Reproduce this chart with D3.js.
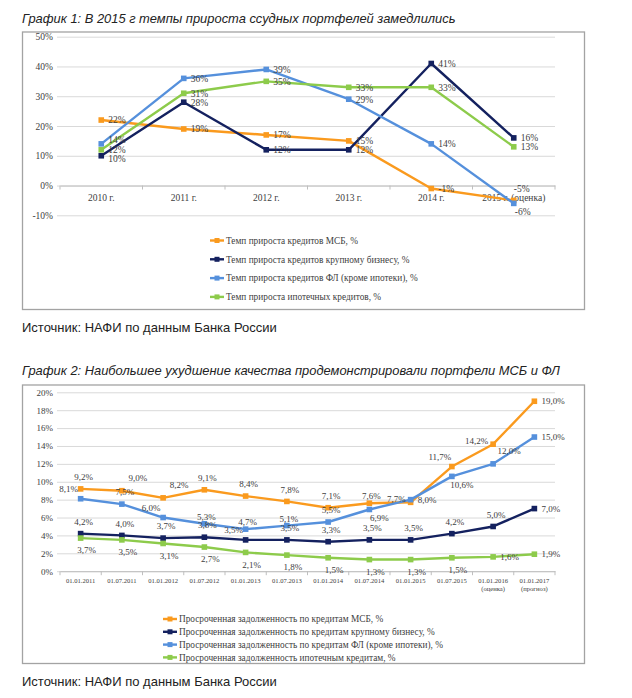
<!DOCTYPE html>
<html>
<head>
<meta charset="utf-8">
<script src="https://cdn.jsdelivr.net/npm/d3@7"></script>
<style>
  body { margin: 0; background: #fff; }
  svg { display: block; }
</style>
</head>
<body>
<div id="page"></div>
<script>
// ---- Chart 1 data: loan growth rates, %
const years = ["2010 г.", "2011 г.", "2012 г.", "2013 г.", "2014 г.", "2015 г. (оценка)"];
const smeGrowth = [22, 19, 17, 15, -1, -5];
const corpGrowth = [10, 28, 12, 12, 41, 16];
const retailGrowth = [14, 36, 39, 29, 14, -6];
const mortgageGrowth = [12, 31, 35, 33, 33, 13];
const growthTicks = [-10, 0, 10, 20, 30, 40, 50];
const growthNames = [
  "Темп прироста кредитов МСБ, %",
  "Темп прироста кредитов крупному бизнесу, %",
  "Темп прироста кредитов ФЛ (кроме ипотеки), %",
  "Темп прироста ипотечных кредитов, %"
];

// ---- Chart 2 data: overdue debt share, %
const dates = ["01.01.2011", "01.07.2011", "01.01.2012", "01.07.2012", "01.01.2013", "01.07.2013",
  "01.01.2014", "01.07.2014", "01.01.2015", "01.07.2015", "01.01.2016\n(оценка)", "01.01.2017\n(прогноз)"];
const smeOverdue = [9.2, 9.0, 8.2, 9.1, 8.4, 7.8, 7.1, 7.6, 7.7, 11.7, 14.2, 19.0];
const corpOverdue = [4.2, 4.0, 3.7, 3.8, 3.5, 3.5, 3.3, 3.5, 3.5, 4.2, 5.0, 7.0];
const retailOverdue = [8.1, 7.5, 6.0, 5.3, 4.7, 5.1, 5.5, 6.9, 8.0, 10.6, 12.0, 15.0];
const mortgageOverdue = [3.7, 3.5, 3.1, 2.7, 2.1, 1.8, 1.5, 1.3, 1.3, 1.5, 1.6, 1.9];
const overdueTicks = [0, 2, 4, 6, 8, 10, 12, 14, 16, 18, 20];
const overdueNames = [
  "Просроченная задолженность по кредитам МСБ, %",
  "Просроченная задолженность по кредитам крупному бизнесу, %",
  "Просроченная задолженность по кредитам ФЛ (кроме ипотеки), %",
  "Просроченная задолженность ипотечным кредитам, %"
];

const colors = ["#fa9a1e", "#14215f", "#5590dc", "#8dcb4b"];

// where each data label sits relative to its point: [anchor, dx, dy]
const placeOffsets = {
  r: ["start", 7, 0],
  ru: ["start", 7, -4],
  rd: ["start", 7, 3],
  l: ["end", -5, -3],
  t: ["middle", 3, -12],
  tr: ["middle", 16, -13],
  tl: ["middle", -12, -10],
  a: ["middle", 2, -7],
  b: ["middle", 6, 12],
  br: ["middle", 10, 8],
  rt: ["start", 0, -12],
  rb: ["start", 1, 8]
};
const growthPlaces = [
  ["r", "r", "r", "r", "r", "rt"],
  ["rd", "r", "r", "r", "r", "r"],
  ["ru", "r", "r", "r", "r", "rb"],
  ["r", "r", "r", "r", "r", "r"]
];
const overduePlaces = [
  ["t", "tr", "tr", "t", "t", "t", "t", "a", "l", "tl", "l", "r"],
  ["t", "t", "t", "t", "tl", "t", "t", "t", "t", "t", "t", "r"],
  ["tl", "t", "tl", "a", "a", "a", "t", "br", "r", "br", "tr", "r"],
  ["b", "b", "b", "b", "b", "b", "b", "b", "b", "b", "r", "r"]
];

const W = 632, H = 698;
const svg = d3.select("#page").append("svg")
  .attr("width", W)
  .attr("height", H)
  .attr("viewBox", `0 0 ${W} ${H}`);

const serif = "'Liberation Serif', 'Times New Roman', serif";
const sans = "'Liberation Sans', Arial, sans-serif";

function drawChart(opt) {
  // Title above the box
  svg.append("text")
    .attr("x", 22).attr("y", opt.titleY)
    .attr("font-family", sans).attr("font-style", "italic")
    .attr("font-size", 12.9).attr("fill", "#222")
    .text(opt.title);

  // Frame
  svg.append("rect")
    .attr("x", 22.5).attr("y", opt.boxTop + 0.5)
    .attr("width", 562).attr("height", opt.boxBottom - opt.boxTop)
    .attr("fill", "none").attr("stroke", "#a3a3a3").attr("stroke-width", 1.3);

  const x = d3.scaleBand().domain(opt.cats).range([60, 555]);
  const y = d3.scaleLinear().domain(opt.yDomain).range(opt.yRange);
  const g = svg.append("g");

  // Gridlines + y labels
  const yAxis = g.append("g")
    .attr("transform", "translate(60,0)")
    .call(d3.axisLeft(y).tickValues(opt.ticks).tickSize(-495).tickPadding(7)
      .tickFormat(d => d + "%"));
  yAxis.select(".domain").remove();
  yAxis.selectAll("line").attr("stroke", "#d9d9d9");
  yAxis.selectAll("text")
    .attr("font-family", serif).attr("font-size", opt.yFont).attr("fill", "#404040");
  // small outer ticks to the left
  yAxis.selectAll(".tick").append("line")
    .attr("x1", -3).attr("x2", 0).attr("stroke", "#d9d9d9");

  // Category axis on the zero line
  const y0 = y(0);
  const xAxis = g.append("g")
    .attr("transform", `translate(0,${y0})`)
    .call(d3.axisBottom(x).tickSize(0).tickPadding(opt.xPad));
  xAxis.select(".domain").attr("stroke", "#bfbfbf");
  xAxis.selectAll("text")
    .attr("font-family", serif).attr("font-size", opt.xFont).attr("fill", "#404040")
    .each(function (d) {
      const parts = d.split("\n");
      if (parts.length > 1) {
        const t = d3.select(this).text(null);
        parts.forEach((p, i) => {
          t.append("tspan").attr("x", 0).attr("dy", i === 0 ? "0.71em" : "1.25em").text(p);
        });
      }
    });
  const bounds = opt.cats.map(c => x(c)).concat([x.range()[1]]);
  g.append("g").selectAll("line").data(bounds).join("line")
    .attr("x1", d => d).attr("x2", d => d)
    .attr("y1", y0).attr("y2", y0 + 4)
    .attr("stroke", "#bfbfbf");

  const cx = (d, i) => x(opt.cats[i]) + x.bandwidth() / 2;
  const line = d3.line().x(cx).y(d => y(d));

  opt.series.forEach((s) => {
    g.append("path")
      .datum(s.values)
      .attr("d", line)
      .attr("fill", "none")
      .attr("stroke", s.color)
      .attr("stroke-width", 2.4)
      .attr("stroke-linejoin", "round");
    g.append("g").selectAll("rect").data(s.values).join("rect")
      .attr("x", (d, i) => cx(d, i) - 2.8)
      .attr("y", d => y(d) - 2.8)
      .attr("width", 5.6).attr("height", 5.6)
      .attr("fill", s.color);
  });

  // Data labels drawn last so they sit above the lines
  opt.series.forEach((s) => {
    g.append("g").selectAll("text").data(s.values).join("text")
      .each(function (d, i) {
        const p = placeOffsets[s.places[i]];
        d3.select(this)
          .attr("x", cx(d, i) + p[1])
          .attr("y", y(d) + p[2])
          .attr("dy", "0.35em")
          .attr("text-anchor", p[0]);
      })
      .attr("font-family", serif).attr("font-size", opt.labelFont).attr("fill", "#404040")
      .text(d => opt.fmt(d) + "%");
  });

  // Legend, one item per row
  const leg = g.append("g").selectAll("g").data(opt.series).join("g")
    .attr("transform", (d, i) => `translate(${opt.legendX},${opt.legendY + i * opt.legendStep})`);
  leg.append("line")
    .attr("x1", 0).attr("x2", 14)
    .attr("stroke", d => d.color).attr("stroke-width", 2.4);
  leg.append("rect")
    .attr("x", 4.5).attr("y", -2.5).attr("width", 5).attr("height", 5)
    .attr("fill", d => d.color);
  leg.append("text")
    .attr("x", 16).attr("dy", "0.35em")
    .attr("font-family", serif).attr("font-size", 9.3).attr("fill", "#404040")
    .text(d => d.name);

  // Source line under the box
  svg.append("text")
    .attr("x", 22).attr("y", opt.sourceY)
    .attr("font-family", sans).attr("font-size", 13).attr("fill", "#222")
    .text("Источник: НАФИ по данным Банка России");
}

drawChart({
  title: "График 1: В 2015 г темпы прироста ссудных портфелей замедлились",
  titleY: 23,
  boxTop: 31.5,
  boxBottom: 309,
  cats: years,
  yDomain: [-10, 50],
  yRange: [215.3, 36.7],
  ticks: growthTicks,
  yFont: 9.5, xFont: 9.5, labelFont: 9.5, xPad: 8.5,
  fmt: d => String(d),
  series: [smeGrowth, corpGrowth, retailGrowth, mortgageGrowth].map((v, i) => ({
    values: v, name: growthNames[i], color: colors[i], places: growthPlaces[i]
  })),
  legendX: 210, legendY: 240.5, legendStep: 18.8,
  sourceY: 332
});

drawChart({
  title: "График 2: Наибольшее ухудшение качества продемонстрировали портфели МСБ и ФЛ",
  titleY: 375,
  boxTop: 384.5,
  boxBottom: 663,
  cats: dates,
  yDomain: [0, 20],
  yRange: [571.2, 392.3],
  ticks: overdueTicks,
  yFont: 9, xFont: 6.6, labelFont: 9, xPad: 7,
  fmt: d => d3.format(".1f")(d).replace(".", ","),
  series: [smeOverdue, corpOverdue, retailOverdue, mortgageOverdue].map((v, i) => ({
    values: v, name: overdueNames[i], color: colors[i], places: overduePlaces[i]
  })),
  legendX: 163, legendY: 619, legendStep: 12.8,
  sourceY: 686
});
</script>
</body>
</html>
